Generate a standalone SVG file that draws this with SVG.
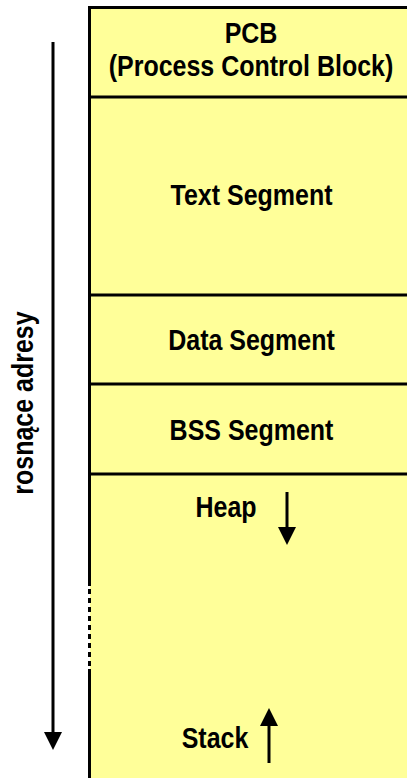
<svg xmlns="http://www.w3.org/2000/svg" width="407" height="778" viewBox="0 0 407 778">
  <defs>
    <style>
      .seg { fill: #FFFF99; stroke: none; }
      .line { stroke: #000; stroke-width: 3; fill: none; }
      .lbl { font-family: "Liberation Sans", Arial, sans-serif; font-weight: bold; font-size: 25px; fill: #000; text-anchor: middle; }
      .arrow { stroke: #000; stroke-width: 3; fill: none; marker-end: url(#head); }
    </style>
    <marker id="head" viewBox="0 0 18 18" refX="2" refY="9" markerWidth="18" markerHeight="18" markerUnits="userSpaceOnUse" orient="auto">
      <path d="M0,0 L18,9 L0,18 z" fill="#000"/>
    </marker>
  </defs>

  <rect class="seg" x="90" y="7.5" width="330" height="780"/>
  <line class="line" x1="88" y1="7.5" x2="420" y2="7.5"/>
  <path class="line" d="M89.5,6 V586 M89.5,669 V780"/>
  <line x1="89.5" y1="589" x2="89.5" y2="669" stroke="#000" stroke-width="3" stroke-dasharray="5 4"/>

  <g id="pcb">
    <text class="lbl" transform="translate(251,43) scale(1,1.17)">PCB</text>
    <text class="lbl" transform="translate(251,76) scale(1,1.17)">(Process Control Block)</text>
  </g>
  <g id="text-segment">
    <line class="line" x1="90" y1="97" x2="420" y2="97"/>
    <text class="lbl" transform="translate(251.5,205) scale(1,1.17)">Text Segment</text>
  </g>
  <g id="data-segment">
    <line class="line" x1="90" y1="295" x2="420" y2="295"/>
    <text class="lbl" transform="translate(251.5,350) scale(1,1.17)">Data Segment</text>
  </g>
  <g id="bss-segment">
    <line class="line" x1="90" y1="384" x2="420" y2="384"/>
    <text class="lbl" transform="translate(251.5,440) scale(1,1.17)">BSS Segment</text>
  </g>
  <g id="heap">
    <line class="line" x1="90" y1="474" x2="420" y2="474"/>
    <text class="lbl" transform="translate(226,517) scale(1,1.17)">Heap</text>
  </g>
  <g id="stack">
    <text class="lbl" transform="translate(215,748) scale(1,1.17)">Stack</text>
  </g>
  <g id="address-label">
    <text class="lbl" transform="translate(33,403) rotate(-90) scale(1,1.17)">rosnące adresy</text>
  </g>

  <g id="connectors">
    <line class="arrow" x1="53" y1="42" x2="53" y2="734"/>
    <line class="arrow" x1="287" y1="492" x2="287" y2="529"/>
    <line class="arrow" x1="269" y1="763" x2="269" y2="724"/>
  </g>
</svg>
